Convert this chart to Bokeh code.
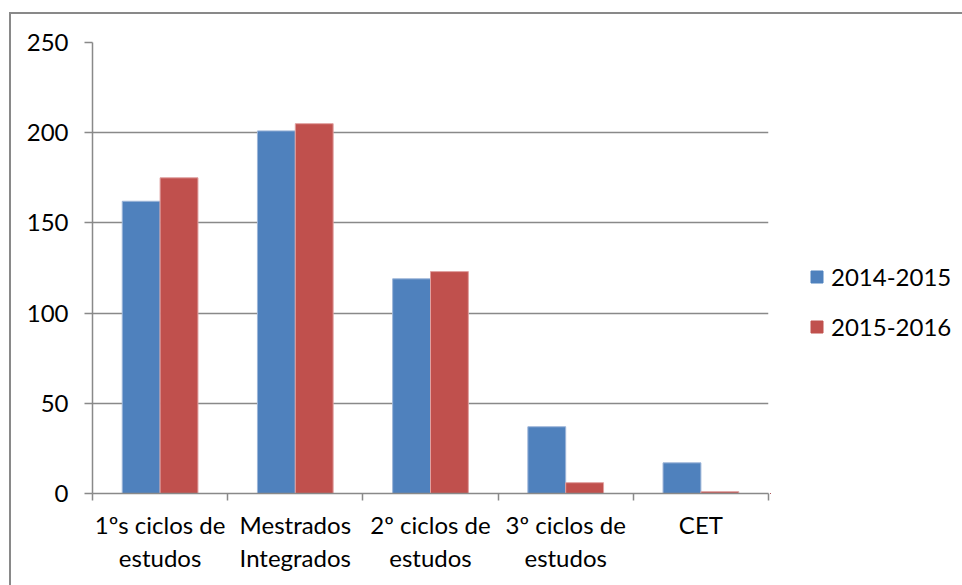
from bokeh.plotting import figure
from bokeh.layouts import row
from bokeh.models import (ColumnDataSource, Range1d, FixedTicker, Legend, LegendItem,
                          InlineStyleSheet)
from bokeh.transform import dodge
from bokeh.embed import file_html
from bokeh.resources import INLINE

categories = ["1ºs ciclos de\nestudos", "Mestrados\nIntegrados", "2º ciclos de\nestudos",
              "3º ciclos de\nestudos", "CET"]
series_names = ["2014-2015", "2015-2016"]
values_2014_2015 = [162, 201, 119, 37, 17]
values_2015_2016 = [175, 205, 123, 6, 1]
y_ticks = [0, 50, 100, 150, 200, 250]

FONT = "Lato"
GRAY = "#898989"
BLUE = "#4F81BD"
RED = "#C0504D"

centers = [i + 0.5 for i in range(len(categories))]
src = ColumnDataSource(dict(x=centers, a=values_2014_2015, b=values_2015_2016))

css1 = InlineStyleSheet(css=""":host { position: relative; }
:host::after { content: ''; position: absolute; left: 9px; top: 12px; right: 0; bottom: 0;
  border-left: 2px solid #898989; border-top: 2px solid #898989; pointer-events: none; }""")
css2 = InlineStyleSheet(css=""":host { position: relative; }
:host::after { content: ''; position: absolute; left: 0; top: 12px; right: 0; bottom: 0;
  border-top: 2px solid #898989; pointer-events: none; }""")

p = figure(width=770, height=585, output_backend="svg", toolbar_location=None,
           x_range=Range1d(0, len(categories)), y_range=Range1d(0, 250),
           min_border_left=92, min_border_right=2, min_border_top=42, min_border_bottom=92,
           stylesheets=[css1])
p.outline_line_color = None
p.background_fill_color = "white"
p.border_fill_color = "white"

r1 = p.vbar(x=dodge("x", -0.14, range=p.x_range), top="a", width=0.28, source=src,
            fill_color=BLUE, line_color="#9db5d8", line_width=1)
r2 = p.vbar(x=dodge("x", 0.14, range=p.x_range), top="b", width=0.28, source=src,
            fill_color=RED, line_color="#e0a0a0", line_width=1)

# x axis
xa = p.xaxis[0]
xa.ticker = FixedTicker(ticks=centers, minor_ticks=list(range(len(categories) + 1)))
xa.major_label_overrides = {c: lab for c, lab in zip(centers, categories)}
xa.major_tick_out = 0
xa.major_tick_in = 0
xa.minor_tick_out = 7
xa.minor_tick_in = 0
xa.minor_tick_line_color = GRAY
xa.minor_tick_line_width = 1.5
xa.axis_line_color = GRAY
xa.axis_line_width = 1.5
xa.major_label_text_font = FONT
xa.major_label_text_font_size = "24px"
xa.major_label_text_color = "black"
xa.major_label_text_line_height = 1.15
xa.major_label_standoff = 9

# y axis
ya = p.yaxis[0]
ya.ticker = FixedTicker(ticks=y_ticks)
ya.minor_tick_line_color = None
ya.major_tick_out = 8
ya.major_tick_in = 0
ya.major_tick_line_color = GRAY
ya.major_tick_line_width = 1.5
ya.axis_line_color = GRAY
ya.axis_line_width = 1.5
ya.major_label_text_font = FONT
ya.major_label_text_font_size = "24px"
ya.major_label_text_color = "black"
ya.major_label_standoff = 16

p.xgrid.grid_line_color = None
p.ygrid.ticker = FixedTicker(ticks=y_ticks)
p.ygrid.grid_line_color = GRAY
p.ygrid.grid_line_width = 1.5

# legend panel (its renderers use the same data, kept outside the visible range)
q = figure(width=192, height=585, output_backend="svg", toolbar_location=None,
           x_axis_location=None, y_axis_location=None,
           x_range=Range1d(100, 101), y_range=Range1d(1000, 1001),
           min_border_left=0, min_border_right=0, min_border_top=0, min_border_bottom=0,
           stylesheets=[css2])
q.outline_line_color = None
q.grid.grid_line_color = None
q.background_fill_color = "white"
q.border_fill_color = "white"
l1 = q.vbar(x="x", top="a", width=0.28, source=src, fill_color=BLUE, line_color=BLUE)
l2 = q.vbar(x="x", top="b", width=0.28, source=src, fill_color=RED, line_color=RED)

legend = Legend(items=[LegendItem(label=series_names[0], renderers=[l1]),
                       LegendItem(label=series_names[1], renderers=[l2])],
                location=(39, 152), orientation="vertical")
legend.margin = 0
legend.padding = 0
legend.border_line_color = None
legend.background_fill_alpha = 0
legend.glyph_width = 15
legend.glyph_height = 15
legend.label_height = 24
legend.spacing = 21
legend.label_standoff = 7
legend.label_text_font = FONT
legend.label_text_font_size = "24px"
legend.label_text_color = "black"
q.add_layout(legend, "center")

layout = row(p, q, spacing=0)
open("out.html", "w").write(file_html(layout, INLINE))
